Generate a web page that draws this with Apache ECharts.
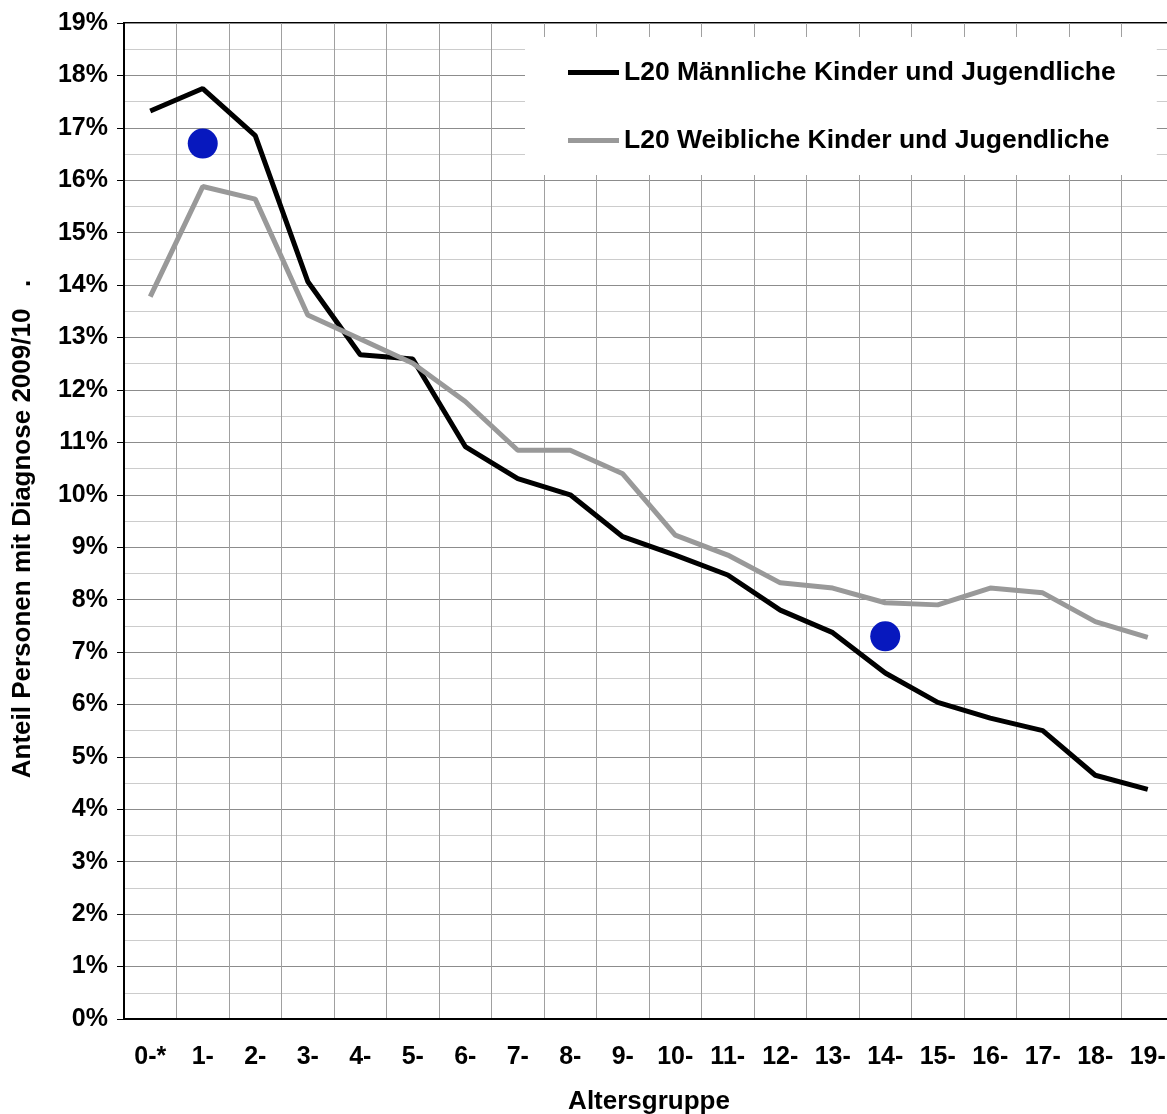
<!DOCTYPE html>
<html>
<head>
<meta charset="utf-8">
<script src="https://cdn.jsdelivr.net/npm/echarts@6/dist/echarts.min.js"></script>
<style>
  html, body { margin: 0; padding: 0; background: #fff; }
  #chart { width: 1167px; height: 1114px; }
</style>
</head>
<body>
<div id="chart"></div>
<script>
// Altersgruppen (x-Achse)
const ageGroups = ['0-*', '1-', '2-', '3-', '4-', '5-', '6-', '7-', '8-', '9-',
  '10-', '11-', '12-', '13-', '14-', '15-', '16-', '17-', '18-', '19-'];

// Anteil in % je Altersgruppe
const maleShare = [17.32, 17.75, 16.85, 14.07, 12.67, 12.59, 10.92, 10.31, 10.00, 9.20,
  8.85, 8.47, 7.80, 7.37, 6.60, 6.04, 5.74, 5.50, 4.65, 4.38];
const femaleShare = [13.78, 15.88, 15.64, 13.43, 12.97, 12.51, 11.78, 10.85, 10.85, 10.40,
  9.23, 8.85, 8.32, 8.22, 7.94, 7.90, 8.22, 8.13, 7.58, 7.28];

// blaue Markierungen
const dotGroups = ['1-', '14-'];
const dotValues = [16.7, 7.3];

const maleName = 'L20 Männliche Kinder und Jugendliche';
const femaleName = 'L20 Weibliche Kinder und Jugendliche';

const font = "'Liberation Sans', Arial, Helvetica, sans-serif";
const bold = {fontFamily: font, fontWeight: 'bold', color: '#000', fontSize: 25};

const chart = echarts.init(document.getElementById('chart'), null, {renderer: 'canvas'});

chart.setOption({
  animation: false,
  backgroundColor: '#fff',
  grid: {
    left: 124,
    top: 23,
    right: -7,
    bottom: 95,
    outerBoundsMode: 'none',
    containLabel: false,
    show: true,
    backgroundColor: '#fff',
    borderColor: '#000',
    borderWidth: 2
  },
  legend: {
    data: [maleName, femaleName],
    orient: 'vertical',
    left: 525,
    top: 37,
    padding: [22, 41, 21, 43],
    backgroundColor: '#fff',
    icon: 'rect',
    itemWidth: 51,
    itemHeight: 5,
    itemGap: 41,
    textStyle: Object.assign({}, bold, {fontSize: 26.5, lineHeight: 27}),
    selectedMode: false
  },
  xAxis: {
    type: 'category',
    data: ageGroups,
    boundaryGap: true,
    name: 'Altersgruppe',
    nameLocation: 'middle',
    nameGap: 70,
    nameTextStyle: Object.assign({}, bold, {fontSize: 26}),
    axisLine: {lineStyle: {color: '#000', width: 2}},
    axisTick: {show: false},
    axisLabel: Object.assign({}, bold, {interval: 0, margin: 26}),
    splitLine: {show: true, interval: 0, lineStyle: {color: '#a0a0a0', width: 1}}
  },
  yAxis: {
    type: 'value',
    min: 0,
    max: 19,
    interval: 1,
    name: 'Anteil Personen mit Diagnose 2009/10   .',
    nameLocation: 'middle',
    nameGap: 88,
    nameTextStyle: Object.assign({}, bold, {fontSize: 26, padding: [0, 16, 0, 0]}),
    axisLine: {show: true, lineStyle: {color: '#000', width: 2}},
    axisTick: {show: true, length: 7, lineStyle: {color: '#000', width: 1}},
    axisLabel: Object.assign({}, bold, {formatter: '{value}%', margin: 16}),
    splitLine: {show: true, lineStyle: {color: '#8c8c8c', width: 1}},
    minorTick: {show: false, splitNumber: 2},
    minorSplitLine: {show: true, lineStyle: {color: '#cccccc', width: 1}}
  },
  series: [
    {
      name: maleName,
      type: 'line',
      data: maleShare,
      symbol: 'none',
      itemStyle: {color: '#000'},
      lineStyle: {color: '#000', width: 5},
      z: 3
    },
    {
      name: femaleName,
      type: 'line',
      data: femaleShare,
      symbol: 'none',
      itemStyle: {color: '#999999'},
      lineStyle: {color: '#999999', width: 5},
      z: 3
    },
    {
      name: 'Markierung',
      type: 'scatter',
      data: dotGroups.map((g, i) => [g, dotValues[i]]),
      symbol: 'circle',
      symbolSize: 30,
      itemStyle: {color: '#0718be', opacity: 1},
      z: 5
    }
  ]
});
</script>
</body>
</html>
